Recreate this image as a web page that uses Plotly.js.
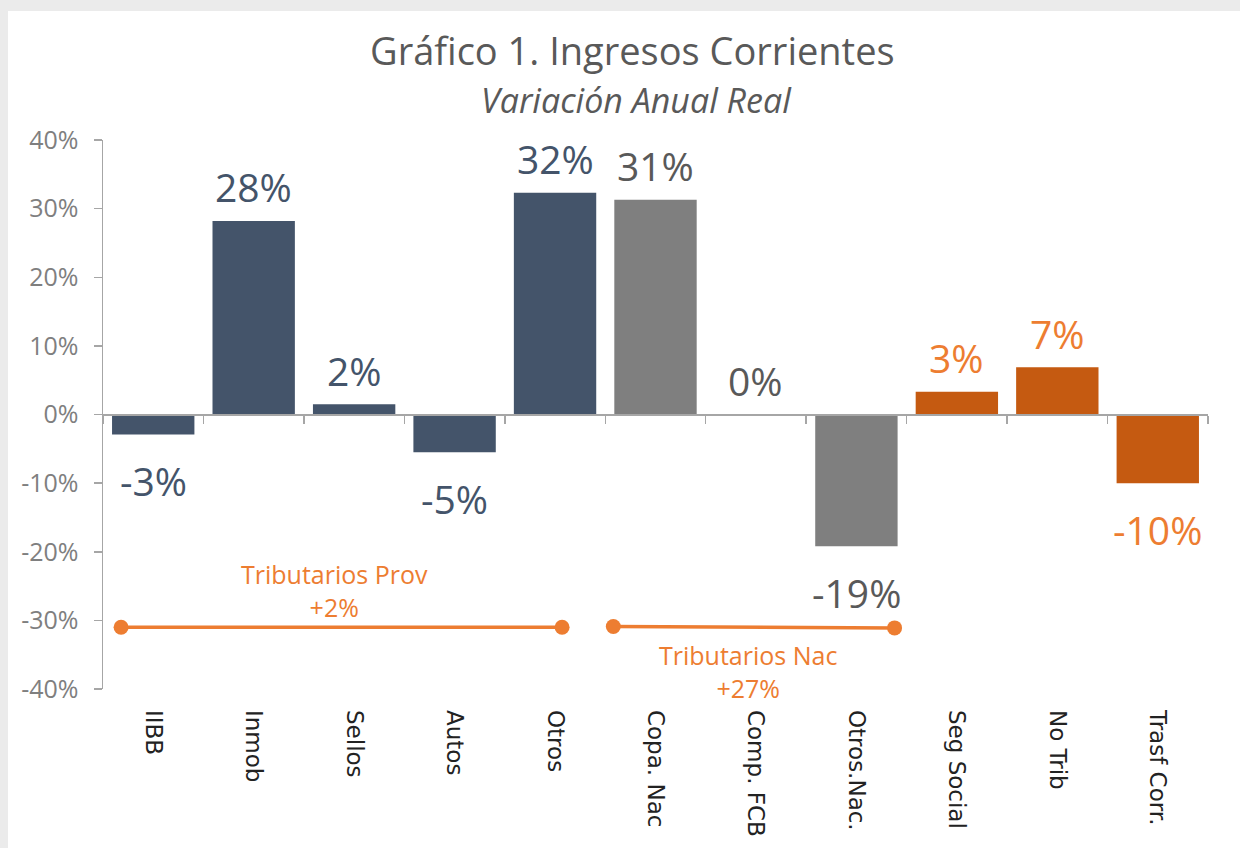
<!DOCTYPE html>
<html>
<head>
<meta charset="utf-8">
<script src="https://cdn.plot.ly/plotly-3.0.1.min.js"></script>
<style>
  html, body { margin:0; padding:0; background:#ebebeb; width:1240px; height:848px; overflow:hidden; }
  #chart { position:absolute; left:8px; top:11px; width:1232px; height:837px; background:#fff; }
</style>
</head>
<body>
<div id="chart"></div>
<script>
// ---- data ----
const categories = ["IIBB","Inmob","Sellos","Autos","Otros","Copa. Nac","Comp. FCB","Otros.Nac.","Seg Social","No Trib","Trasf Corr."];
const values = [-2.9, 28.2, 1.5, -5.5, 32.3, 31.3, 0, -19.2, 3.3, 6.9, -10.0];
const valueLabels = ["-3%","28%","2%","-5%","32%","31%","0%","-19%","3%","7%","-10%"];
const groups = ["prov","prov","prov","prov","prov","nac","nac","nac","otros","otros","otros"];
const yTickVals = [-40, -30, -20, -10, 0, 10, 20, 30, 40];
const yTickText = ["-40%","-30%","-20%","-10%","0%","10%","20%","30%","40%"];
const provLineX = [-0.32, 4.07];
const provLineY = [-31.0, -31.0];
const nacLineX = [4.58, 7.38];
const nacLineY = [-30.9, -31.1];
const provLabel = "Tributarios Prov<br>+2%";
const nacLabel = "Tributarios Nac<br>+27%";
const provLabelPos = [1.80, -25.6];
const nacLabelPos = [5.92, -37.4];

// ---- styles ----
const barColors = {prov:"#44546a", nac:"#7f7f7f", otros:"#c55a11"};
const labelColors = {prov:"#44546a", nac:"#595959", otros:"#ed7d31"};
const orange = "#ed7d31";
const axisGray = "#a6a6a6";

const idx = categories.map((c,i)=>i);

const traces = [
  {
    type:"bar", x: idx, y: values, width: 0.82,
    marker:{color: groups.map(g=>barColors[g])},
    hoverinfo:"x+y", showlegend:false
  },
  {
    type:"scatter", mode:"lines+markers", x: provLineX, y: provLineY,
    line:{color:orange, width:3.5}, marker:{color:orange, size:15}, showlegend:false
  },
  {
    type:"scatter", mode:"lines+markers", x: nacLineX, y: nacLineY,
    line:{color:orange, width:3.5}, marker:{color:orange, size:15}, showlegend:false
  },
  {
    type:"scatter", mode:"markers", x:[-0.5], y:[0], xaxis:"x2",
    marker:{opacity:0}, hoverinfo:"skip", showlegend:false
  }
];

const annotations = values.map((v,i)=>({
  x: i, y: v, xref:"x", yref:"y",
  text: valueLabels[i],
  showarrow:false, yanchor:"middle", xanchor:"center",
  yshift: v >= 0 ? 34 : -46,
  font:{family:"Open Sans", size:39, color: labelColors[groups[i]]}
}));
annotations.push(
  {x: provLabelPos[0], y: provLabelPos[1], xref:"x", yref:"y", text: provLabel, showarrow:false,
   font:{family:"Open Sans", size:25, color:orange}, align:"center", yanchor:"middle"},
  {x: nacLabelPos[0], y: nacLabelPos[1], xref:"x", yref:"y", text: nacLabel, showarrow:false,
   font:{family:"Open Sans", size:25, color:orange}, align:"center", yanchor:"middle"},
  {x:0.4796, y:1.164, xref:"paper", yref:"paper", text:"Gráfico 1. Ingresos Corrientes", showarrow:false,
   font:{family:"Open Sans", size:38, color:"#595959"}, xanchor:"center", yanchor:"middle"},
  {x:0.483, y:1.073, xref:"paper", yref:"paper", text:"<i>Variación Anual Real</i>", showarrow:false,
   font:{family:"Open Sans", size:34, color:"#595959"}, xanchor:"center", yanchor:"middle"}
);

const boundaries = [];
for (let i = 0; i <= categories.length; i++) boundaries.push(i - 0.5);

const layout = {
  width:1232, height:837,
  margin:{l:95, r:32, t:129, b:159},
  paper_bgcolor:"#ffffff", plot_bgcolor:"#ffffff",
  showlegend:false,
  xaxis:{
    range:[-0.5, categories.length-0.5], tickvals: idx, ticktext: categories,
    tickangle:90, showline:false, zeroline:false, showgrid:false, ticks:"",
    ticklabelstandoff: 20,
    tickfont:{family:"DejaVu Sans", size:23, color:"#222222"}
  },
  xaxis2:{
    overlaying:"x", anchor:"free", position:0.5,
    range:[-0.5, categories.length-0.5], tickvals: boundaries,
    ticks:"outside", ticklen:8, tickwidth:1.5, tickcolor:axisGray,
    showline:true, linecolor:axisGray, linewidth:2,
    showticklabels:false, showgrid:false, zeroline:false
  },
  yaxis:{
    range:[-40, 40], tickvals: yTickVals, ticktext: yTickText,
    ticks:"outside", ticklen:8, tickwidth:1.5, tickcolor:axisGray,
    showline:true, linecolor:axisGray, linewidth:1.5,
    showgrid:false, zeroline:false,
    ticklabelstandoff: 10,
    tickfont:{family:"Open Sans", size:25, color:"#7f7f7f"}
  },
  annotations: annotations
};

Plotly.newPlot("chart", traces, layout, {displayModeBar:false, staticPlot:true});
</script>
</body>
</html>
